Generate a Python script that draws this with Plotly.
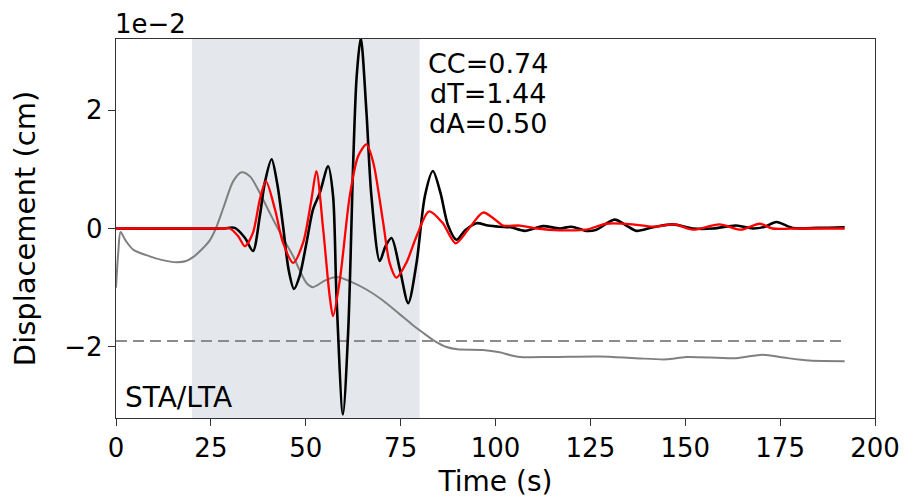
import plotly.graph_objects as go

# Observed (black) displacement, units of 1e-2 cm
obs_t = [0, 28, 31.3, 34, 36.1, 37.9, 39.2, 41, 42.5, 44, 45.5, 46.9, 48.4, 50.2, 51.9, 53.7, 55.9,
         57.2, 58.1, 59.8, 61.2, 62.5, 63.4, 64.5, 66, 67.3, 69.5, 71, 72.6, 74.8, 77, 79.2, 81.4,
         83.5, 85.5, 87.5, 89.7, 92, 95, 98, 101, 104, 107.7, 112.5, 116.9, 120, 123.9, 126.6,
         131.4, 134.5, 137.1, 141.5, 146.7, 152, 157.3, 163.4, 167.8, 171, 174, 178.3, 185, 192]
obs_d = [0, 0, 0.01, -0.16, -0.38, 0.21, 0.77, 1.17, 0.75, 0.05, -0.7, -1.02, -0.8, -0.24, 0.32, 0.6, 1.05,
         0.55, -1.14, -3.14, -1.71, 1.11, 2.55, 3.22, 1.96, 0.55, -0.55, -0.3, -0.16, -0.69, -1.26, -0.58, 0.55,
         0.97, 0.6, 0.05, -0.19, -0.03, 0.09, 0.05, 0.03, 0.02, -0.04, 0.04, 0.0, 0.03, -0.04, -0.02,
         0.15, 0.05, -0.04, 0.02, 0.07, 0.0, 0.0, 0.05, 0.0, 0.03, 0.11, 0.01, 0.01, 0.02]

# Synthetic (red) displacement
syn_t = [0, 28, 30, 32.2, 34, 36.1, 37.9, 39.5, 41.9, 44, 46.7, 49.3, 51.5, 52.8, 54.6, 56.3, 57.2,
         59, 61.6, 63.8, 66, 67.8, 70.4, 72.1, 73.9, 76.5, 79.2, 82.5, 86, 89.5, 93, 96.7, 99.5,
         102, 106.4, 111, 116.9, 123.9, 129.2, 136.2, 141.5, 147.2, 152, 159, 164.7, 169.6, 173, 180, 192]
syn_d = [0, 0, 0, -0.13, -0.3, -0.07, 0.49, 0.8, 0.32, -0.24, -0.58, -0.24, 0.49, 0.97, -0.02, -1.14, -1.48,
         -0.86, 0.55, 1.22, 1.42, 1.11, 0.1, -0.58, -0.83, -0.58, -0.13, 0.29, 0.1, -0.25, 0.0, 0.27, 0.17,
         0.05, 0.05, 0.0, -0.03, -0.02, 0.08, 0.07, 0.03, 0.07, -0.02, 0.07, -0.02, 0.08, 0.0, 0.0, 0.0]

# STA/LTA curve (gray), scaled to the same axis
sta_t = [0, 0.6, 1.2, 2.5, 4.6, 8.9, 12, 16, 18.5, 20.4, 22.5, 24.7, 26.3, 28.3, 30.9, 33.1, 35.3,
         37.9, 40, 42.3, 44.5, 46.7, 48.5, 50.2, 51.9, 55, 58.1, 62, 66, 70, 74.8, 78, 80.9, 84,
         87.1, 90, 96.7, 101.1, 104, 106.4, 115, 127.4, 137, 145, 150.3, 163.4, 170.4, 176, 182.7, 192]
sta_d = [-1.0, -0.4, -0.06, -0.2, -0.36, -0.47, -0.53, -0.57, -0.55, -0.48, -0.36, -0.2, 0.0, 0.35, 0.8, 0.95, 0.88,
         0.6, 0.33, 0.04, -0.22, -0.47, -0.72, -0.92, -0.99, -0.88, -0.82, -0.9, -1.03, -1.2, -1.45, -1.62, -1.76, -1.9,
         -2.0, -2.04, -2.05, -2.09, -2.14, -2.17, -2.17, -2.16, -2.19, -2.21, -2.17, -2.19, -2.13, -2.18, -2.23, -2.24]

threshold = -1.9
threshold_t = [0, 192]
window = [20, 80]
y_range = [-3.2, 3.2]
x_range = [0, 200]
x_ticks = [0, 25, 50, 75, 100, 125, 150, 175, 200]
y_ticks = [-2, 0, 2]
stats_lines = ["CC=0.74", "dT=1.44", "dA=0.50"]

FONT = "DejaVu Sans"
fig = go.Figure()

fig.add_vrect(x0=window[0], x1=window[1], fillcolor="#E4E8EC", line_width=0, layer="below")

fig.add_trace(go.Scatter(x=sta_t, y=sta_d, mode="lines", line=dict(color="#808080", width=2, shape="spline", smoothing=0.8),
                         hoverinfo="skip"))
fig.add_trace(go.Scatter(x=threshold_t, y=[threshold, threshold], mode="lines",
                         line=dict(color="#8c8c8c", width=2.2, dash="11px,6px"), hoverinfo="skip"))
fig.add_trace(go.Scatter(x=obs_t, y=obs_d, mode="lines", line=dict(color="black", width=2.6, shape="spline", smoothing=0.8),
                         hoverinfo="skip"))
fig.add_trace(go.Scatter(x=syn_t, y=syn_d, mode="lines", line=dict(color="#ff0000", width=2.3, shape="spline", smoothing=0.8),
                         hoverinfo="skip"))

for i, line in enumerate(stats_lines):
    fig.add_annotation(text=line, xref="x", yref="paper", x=97.9, y=1, yanchor="top", xanchor="center",
                       showarrow=False, font=dict(family=FONT, size=27, color="black"), yshift=-7 - 30 * i)
fig.add_annotation(text="STA/LTA", xref="x", yref="paper", x=1.8, y=0, xanchor="left", yanchor="bottom",
                   showarrow=False, font=dict(family=FONT, size=28, color="black"), yshift=2)
fig.add_annotation(text="1e\u22122", xref="paper", yref="paper", x=0, y=1, xanchor="left", yanchor="bottom",
                   showarrow=False, font=dict(family=FONT, size=26, color="black"), xshift=-3, yshift=-2)

axis_common = dict(showline=True, linecolor="#333333", linewidth=1.3, mirror=True, ticks="outside", ticklen=7,
                   tickwidth=1.3, tickcolor="#333333", showgrid=False, zeroline=False, automargin=False,
                   tickfont=dict(family=FONT, size=26, color="black"))
fig.update_xaxes(range=x_range, tickvals=x_ticks, title=dict(text="Time (s)", font=dict(family=FONT, size=28, color="black"), standoff=9),
                 **axis_common)
fig.update_yaxes(range=y_range, tickvals=y_ticks, ticktext=["\u22122", "0", "2"],
                 title=dict(text="Displacement (cm)", font=dict(family=FONT, size=29, color="black"), standoff=20),
                 **axis_common)

# page body has an 8px margin; figure sized so the plot area lands at 116..875 x 39..418
fig.update_layout(width=899, height=493, margin=dict(l=108, r=32, t=31, b=83), plot_bgcolor="white",
                  paper_bgcolor="white", showlegend=False, font=dict(family=FONT, color="black"))

fig.write_html("out.html")
